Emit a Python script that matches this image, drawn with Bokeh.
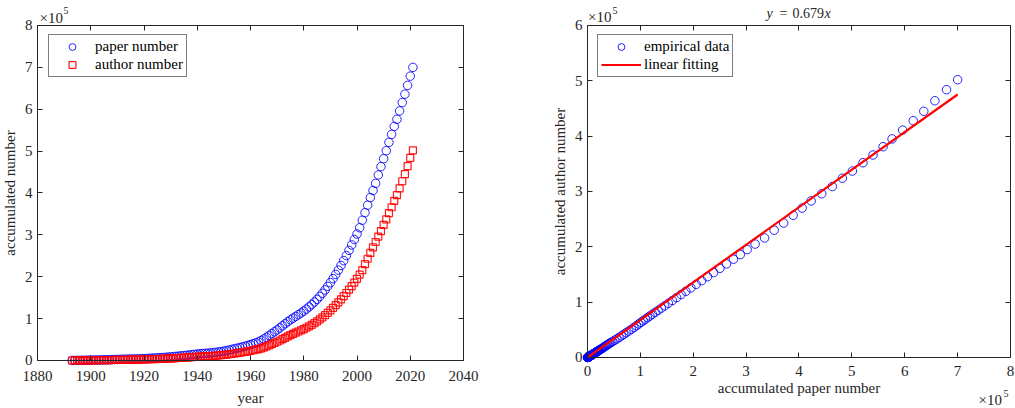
from bokeh.plotting import figure
from bokeh.layouts import row
from bokeh.models import (Range1d, LinearAxis, FixedTicker, Label, Legend, LegendItem,
                          CustomJSTickFormatter)
from bokeh.embed import file_html
from bokeh.resources import INLINE

# ---------------- data (values in units of 10^5) ----------------
years = list(range(1893, 2022))
paper_e5 = [
    0.001, 0.002, 0.003, 0.004, 0.005, 0.006, 0.008, 0.010, 0.011, 0.012,
    0.013, 0.015, 0.016, 0.018, 0.019, 0.021, 0.023, 0.025, 0.027, 0.029,
    0.031, 0.033, 0.034, 0.035, 0.036, 0.038, 0.041, 0.045, 0.048, 0.052,
    0.055, 0.059, 0.062, 0.066, 0.070, 0.075, 0.080, 0.086, 0.092, 0.098,
    0.104, 0.110, 0.117, 0.124, 0.131, 0.139, 0.147, 0.154, 0.160, 0.165,
    0.170, 0.175, 0.180, 0.187, 0.195, 0.204, 0.213, 0.222, 0.236, 0.250,
    0.265, 0.280, 0.294, 0.309, 0.325, 0.342, 0.360, 0.380, 0.400, 0.420,
    0.445, 0.478, 0.515, 0.555, 0.598, 0.642, 0.686, 0.730, 0.780, 0.830,
    0.878, 0.925, 0.970, 1.012, 1.053, 1.094, 1.135, 1.180, 1.228, 1.280,
    1.336, 1.396, 1.460, 1.530, 1.605, 1.685, 1.770, 1.860, 1.955, 2.055,
    2.160, 2.270, 2.385, 2.505, 2.630, 2.760, 2.890, 3.020, 3.170, 3.350,
    3.530, 3.710, 3.890, 4.060, 4.230, 4.430, 4.630, 4.820, 5.010, 5.210,
    5.400, 5.590, 5.760, 5.960, 6.160, 6.360, 6.570, 6.790, 7.000,
]
author_e5 = [
    0.0005, 0.001, 0.0015, 0.002, 0.0025, 0.003, 0.004, 0.005, 0.006, 0.0065,
    0.007, 0.008, 0.009, 0.010, 0.011, 0.012, 0.013, 0.014, 0.015, 0.016,
    0.017, 0.018, 0.019, 0.020, 0.021, 0.022, 0.024, 0.026, 0.028, 0.030,
    0.032, 0.034, 0.036, 0.038, 0.040, 0.043, 0.046, 0.049, 0.053, 0.057,
    0.060, 0.064, 0.068, 0.072, 0.076, 0.081, 0.086, 0.090, 0.094, 0.097,
    0.100, 0.103, 0.106, 0.110, 0.115, 0.120, 0.126, 0.132, 0.140, 0.149,
    0.158, 0.167, 0.176, 0.186, 0.197, 0.208, 0.220, 0.232, 0.245, 0.258,
    0.272, 0.290, 0.312, 0.336, 0.362, 0.390, 0.418, 0.448, 0.478, 0.510,
    0.542, 0.574, 0.606, 0.636, 0.664, 0.692, 0.720, 0.750, 0.782, 0.816,
    0.852, 0.892, 0.934, 0.980, 1.030, 1.082, 1.138, 1.196, 1.258, 1.322,
    1.390, 1.460, 1.535, 1.612, 1.692, 1.776, 1.860, 1.950, 2.050, 2.160,
    2.300, 2.430, 2.570, 2.700, 2.830, 2.960, 3.090, 3.240, 3.370, 3.520,
    3.660, 3.810, 3.950, 4.110, 4.280, 4.450, 4.640, 4.840, 5.020,
]
fit_slope = 0.679
fit_x_e5 = [0.0, 7.0]
fit_y_e5 = [fit_slope * v for v in fit_x_e5]

year_ticks = [1880, 1900, 1920, 1940, 1960, 1980, 2000, 2020, 2040]
left_y_ticks = [0, 1, 2, 3, 4, 5, 6, 7, 8]
right_x_ticks = [0, 1, 2, 3, 4, 5, 6, 7, 8]
right_y_ticks = [0, 1, 2, 3, 4, 5, 6]

FONT = "Liberation Serif"
AX = "#262626"
BLUE = "#0000ff"
RED = "#ff0000"
EMPTY = CustomJSTickFormatter(code="return ''")


def base_axis(ax):
    ax.axis_line_color = AX
    ax.axis_line_width = 1
    ax.major_tick_line_color = AX
    ax.major_tick_in = 5
    ax.major_tick_out = 0
    ax.minor_tick_line_color = None
    ax.major_label_text_font = FONT
    ax.major_label_text_font_size = "15px"
    ax.major_label_text_color = AX
    ax.axis_label_text_font = FONT
    ax.axis_label_text_font_size = "15px"
    ax.axis_label_text_font_style = "normal"
    ax.axis_label_text_color = AX


def make_box(p, xticks, yticks, xbounds, ybounds, xlabel, ylabel,
             xl_standoff, xal_standoff, yl_standoff, yal_standoff):
    p.outline_line_color = None
    p.xgrid.visible = False
    p.ygrid.visible = False
    p.background_fill_color = "white"
    p.border_fill_color = "white"
    # bottom axis, drawn at y = 0
    bx = p.xaxis[0]
    bx.ticker = FixedTicker(ticks=xticks)
    bx.bounds = xbounds
    bx.fixed_location = ybounds[0]
    bx.axis_label = xlabel
    base_axis(bx)
    bx.major_label_standoff = xl_standoff
    bx.axis_label_standoff = xal_standoff
    # left axis, drawn at x = xmin
    ly = p.yaxis[0]
    ly.ticker = FixedTicker(ticks=yticks)
    ly.bounds = ybounds
    ly.fixed_location = xbounds[0]
    ly.axis_label = ylabel
    base_axis(ly)
    ly.major_label_standoff = yl_standoff
    ly.axis_label_standoff = yal_standoff
    # top axis (box edge with inner ticks)
    tx = LinearAxis(ticker=FixedTicker(ticks=xticks), formatter=EMPTY,
                    bounds=xbounds, fixed_location=ybounds[1])
    base_axis(tx)
    tx.major_label_standoff = 0
    p.add_layout(tx, "above")
    # right axis
    ry = LinearAxis(ticker=FixedTicker(ticks=yticks), formatter=EMPTY,
                    bounds=ybounds, fixed_location=xbounds[1])
    base_axis(ry)
    ry.major_label_standoff = 0
    p.add_layout(ry, "right")


def add_label(p, x, y, text, size="15px", style_="normal"):
    p.add_layout(Label(x=x, y=y, text=text, text_font=FONT, text_font_size=size,
                       text_font_style=style_, text_color=AX, text_baseline="middle",
                       text_align="left"))


def make_legend(items, loc):
    return Legend(items=items, location=loc, padding=3, spacing=1, margin=0,
                  label_height=17, glyph_height=17, glyph_width=40, label_standoff=3,
                  border_line_color="black", border_line_width=1,
                  label_text_font=FONT, label_text_font_size="15px",
                  label_text_color="black")


# ---------------- left panel ----------------
# whole canvas is the frame; box: x 1880..2040 at 37..463 px, y 0..8 at 360..25 px
p1 = figure(width=545, height=408,
            x_range=Range1d(1866.103, 2070.798), y_range=Range1d(-1.1463, 8.597),
            output_backend="svg", toolbar_location=None,
            min_border_left=0, min_border_right=0, min_border_top=0, min_border_bottom=0)
make_box(p1, year_ticks, left_y_ticks, (1880, 2040), (0, 8), "year", "accumulated number",
         11, 5, 5, 4)
r1 = p1.scatter(years, paper_e5, marker="circle", size=8.5, fill_color=None,
                line_color=BLUE, line_width=1, line_alpha=0.85)
r2 = p1.scatter(years, author_e5, marker="square", size=7, fill_color=None,
                line_color=RED, line_width=1.2, line_alpha=0.9)
p1.add_layout(make_legend([LegendItem(label="paper number", renderers=[r1]),
                           LegendItem(label="author number", renderers=[r2])], (48, 331)))
add_label(p1, 1880.75, 8.191, "×10")
add_label(p1, 1889.77, 8.358, "5", size="10px")

# ---------------- right panel ----------------
# whole canvas is the frame; box: x 0..8 at 587..1010 px (page), y 0..6 at 357..25 px
p2 = figure(width=470, height=408,
            x_range=Range1d(-0.7943, 8.0946), y_range=Range1d(-0.9217, 6.4518),
            output_backend="svg", toolbar_location=None,
            min_border_left=0, min_border_right=0, min_border_top=0, min_border_bottom=0)
make_box(p2, right_x_ticks, right_y_ticks, (0, 8), (0, 6),
         "accumulated paper number", "accumulated author number", 9, 0, 5, 4)
r3 = p2.scatter(paper_e5, author_e5, marker="circle", size=8.5, fill_color=None,
                line_color=BLUE, line_width=1, line_alpha=0.85)
r4 = p2.line(fit_x_e5, fit_y_e5, line_color=RED, line_width=2.2)
p2.add_layout(make_legend([LegendItem(label="empirical data", renderers=[r3]),
                           LegendItem(label="linear fitting", renderers=[r4])], (52, 331)))
add_label(p2, 0.01, 6.145, "×10")
add_label(p2, 0.473, 6.271, "5", size="10px")
add_label(p2, 7.395, -0.777, "×10")
add_label(p2, 7.868, -0.651, "5", size="10px")
# title: y = 0.679x
add_label(p2, 3.385, 6.217, "y", size="14px", style_="italic")
add_label(p2, 3.631, 6.217, "=", size="14px")
add_label(p2, 3.877, 6.217, "0.679", size="14px")
add_label(p2, 4.482, 6.217, "x", size="14px", style_="italic")

layout = row(p1, p2)
open("out.html", "w").write(file_html(layout, INLINE))
